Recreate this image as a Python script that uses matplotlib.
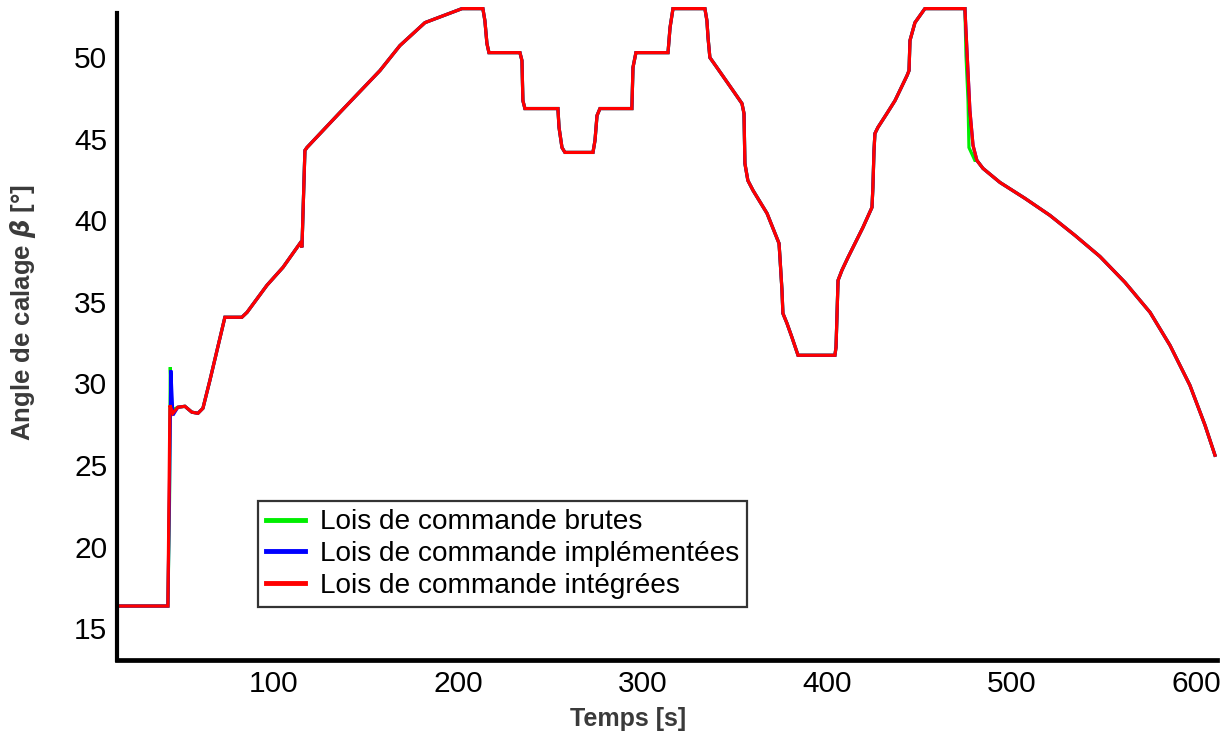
import matplotlib

matplotlib.use("Agg")
import matplotlib.pyplot as plt

plt.rcParams["font.family"] = ["Liberation Sans", "DejaVu Sans"]

# Red trace: control laws after integration (reference for the other two)
t_int = [14.9, 42.5, 43.6, 45.2, 47.9, 51.7, 55.5, 58.8, 61.5, 65.3,
         73.4, 82.6, 85.4, 96.2, 104.9, 114.1, 115.2, 116.8, 117.9, 135.8,
         157.5, 168.3, 181.9, 202.0, 213.3, 214.4, 215.5, 216.6, 233.4, 234.5,
         235.0, 236.1, 254.0, 254.6, 256.2, 257.8, 273.0, 274.1, 275.2, 276.8,
         294.1, 294.7, 296.3, 313.7, 314.8, 316.4, 333.7, 334.8, 335.4, 336.4,
         340.2, 348.9, 353.8, 354.9, 355.4, 357.0, 359.8, 367.4, 373.9, 374.4,
         375.5, 376.0, 378.2, 380.9, 384.2, 404.2, 404.8, 405.3, 405.9, 408.0,
         411.3, 419.4, 424.3, 424.8, 425.4, 425.9, 427.5, 432.4, 436.8, 443.3,
         444.4, 444.9, 447.6, 453.0, 474.7, 475.8, 477.4, 479.1, 481.2, 484.5,
         493.7, 507.3, 520.8, 534.4, 547.9, 561.5, 575.1, 585.9, 596.7, 604.9,
         610.3]
beta_int = [16.35, 16.35, 28.66, 28.17, 28.54, 28.60, 28.24, 28.17, 28.48, 30.20,
            34.06, 34.06, 34.36, 36.02, 37.12, 38.59, 38.35, 44.29, 44.47, 46.62,
            49.19, 50.72, 52.13, 52.99, 52.99, 52.25, 50.85, 50.29, 50.29, 49.80,
            47.35, 46.86, 46.86, 45.70, 44.47, 44.17, 44.17, 44.90, 46.43, 46.86,
            46.86, 49.38, 50.29, 50.29, 51.83, 52.99, 52.99, 52.25, 51.21, 49.99,
            49.38, 47.97, 47.17, 46.56, 43.49, 42.45, 41.84, 40.43, 38.59, 37.73,
            35.71, 34.30, 33.69, 32.83, 31.73, 31.73, 32.22, 34.06, 36.32, 36.94,
            37.73, 39.57, 40.80, 42.02, 44.29, 45.33, 45.70, 46.56, 47.35, 48.88,
            49.19, 51.03, 52.13, 52.99, 52.99, 50.42, 46.74, 44.60, 43.68, 43.19,
            42.33, 41.35, 40.31, 39.08, 37.79, 36.20, 34.36, 32.34, 29.89, 27.44,
            25.60]

# Raw and implemented laws differ from the integrated one only around the
# transients; elsewhere they follow the same points
t_brut_spike = [14.9, 42.5, 43.4, 43.8, 44.7, 47.9]
beta_brut_spike = [16.35, 16.35, 23.0, 31.0, 28.36, 28.54]
t_impl_spike = [14.9, 42.5, 43.3, 44.1, 45.2, 47.9]
beta_impl_spike = [16.35, 16.35, 23.0, 30.8, 28.05, 28.54]

t_brut_drop = [474.7, 475.3, 476.4, 476.9, 480.1]
beta_brut_drop = [52.99, 50.10, 47.35, 44.47, 43.68]

LABELS = ["Lois de commande brutes",
          "Lois de commande implémentées",
          "Lois de commande intégrées"]
COLORS = ["#00ee00", "#0000ff", "#ff0000"]

i_spike = t_int.index(47.9)
i_drop0 = t_int.index(474.7)
i_drop1 = t_int.index(481.2)

t_brut = t_brut_spike + t_int[i_spike + 1:i_drop0] + t_brut_drop + t_int[i_drop1:]
beta_brut = beta_brut_spike + beta_int[i_spike + 1:i_drop0] + beta_brut_drop + beta_int[i_drop1:]
t_impl = t_impl_spike + t_int[i_spike + 1:]
beta_impl = beta_impl_spike + beta_int[i_spike + 1:]

fig = plt.figure(figsize=(12.31, 7.38), dpi=100)
ax = fig.add_axes([117 / 1231, 1 - 660 / 738, 1100 / 1231, 654 / 738])

for t, b, lab, col in zip([t_brut, t_impl, t_int], [beta_brut, beta_impl, beta_int], LABELS, COLORS):
    ax.plot(t, b, color=col, lw=2.3, label=lab, solid_joinstyle="miter")

ax.set_xlim(14.9, 611.4)
ax.set_ylim(13.04, 53.15)
ax.set_xticks([100, 200, 300, 400, 500, 600])
ax.set_yticks([15, 20, 25, 30, 35, 40, 45, 50])
ax.tick_params(length=0, labelsize=21.5, colors="black")
ax.tick_params(axis="x", pad=7)
ax.tick_params(axis="y", pad=7)

for side in ["top", "right"]:
    ax.spines[side].set_visible(False)
ax.spines["left"].set_linewidth(3.0)
ax.spines["bottom"].set_linewidth(3.4)
ax.spines["left"].set_bounds(13.04, 52.7)

ax.set_xlabel("Temps [s]", fontsize=18, fontweight="bold", color="#3a3a3a")
ax.set_ylabel(r"Angle de calage $\boldsymbol{\beta}$ [°]", fontsize=18.5, fontweight="bold",
              color="#3a3a3a")
ax.xaxis.set_label_coords(0.465, -0.072)
ax.yaxis.set_label_coords(-0.072, 0.532)

leg = ax.legend(loc="lower left", bbox_to_anchor=(0.128, 0.081), borderaxespad=0,
                fontsize=20.2, fancybox=False, framealpha=1, edgecolor="#333333",
                handlelength=1.4, handletextpad=0.5, labelspacing=0.2, borderpad=0.3)
leg.get_frame().set_linewidth(1.6)
for line in leg.get_lines():
    line.set_linewidth(3.5)

fig.savefig("out.png", dpi=100)
